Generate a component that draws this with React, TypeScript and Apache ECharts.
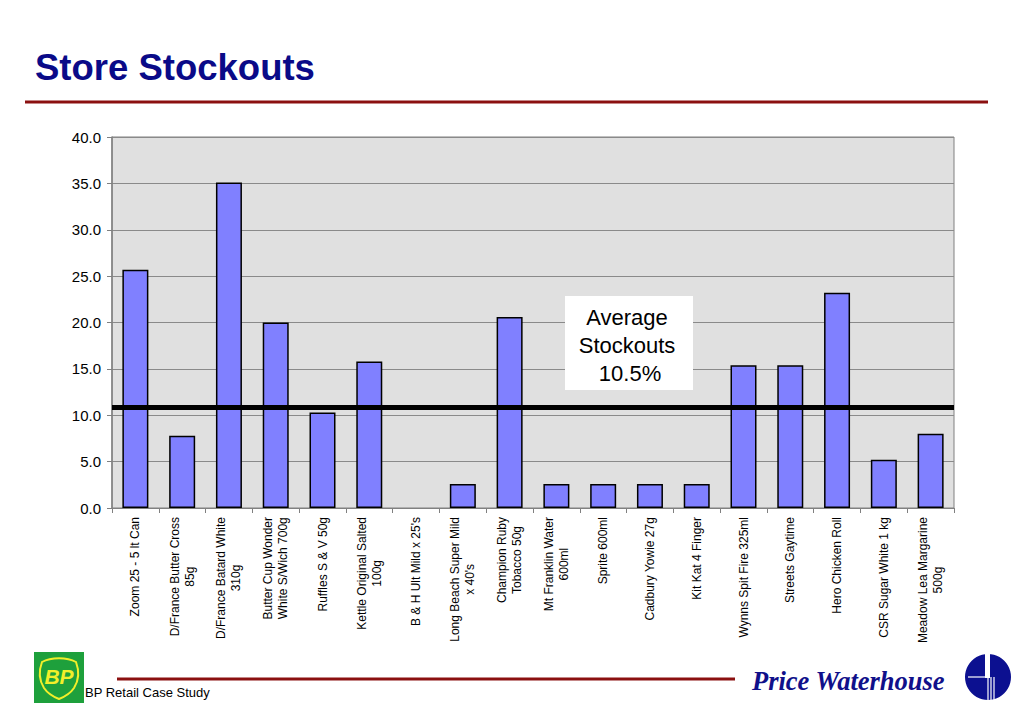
import React, { useEffect, useRef } from "react";
import * as echarts from "echarts";

const categories: string[] = [
  "Zoom 25 - 5 lt Can",
  "D/France Butter Cross\n85g",
  "D/France Batard White\n310g",
  "Butter Cup Wonder\nWhite S/Wich 700g",
  "Ruffles S & V 50g",
  "Kettle Original Salted\n100g",
  "B & H Ult Mild x 25's",
  "Long Beach Super Mild\nx 40's",
  "Champion Ruby\nTobacco 50g",
  "Mt Franklin Water\n600ml",
  "Sprite 600ml",
  "Cadbury Yowie 27g",
  "Kit Kat 4 Finger",
  "Wynns Spit Fire 325ml",
  "Streets Gaytime",
  "Hero Chicken Roll",
  "CSR Sugar White 1 kg",
  "Meadow Lea Margarine\n500g",
];

const stockouts: number[] = [
  25.7, 7.8, 35.1, 20.0, 10.3, 15.8, 0, 2.6, 20.6, 2.6, 2.6, 2.6, 2.6, 15.4, 15.4, 23.2, 5.2, 8.0,
];

const averageLine = 10.9;
const yTicks = { min: 0, max: 40, interval: 5 };

const titleText = "Store Stockouts";
const averageText = ["Average", "Stockouts", " 10.5%"];
const footerText = "BP Retail Case Study";
const brandText = "Price Waterhouse";

const shieldPath =
  "M3,6 C12,1 28,1 37,6 C40,14 40,24 35,32 C31,38 25,41 20,43 C15,41 9,38 5,32 C0,24 0,14 3,6 Z";

echarts.graphic.registerShape("bpshield", (echarts.graphic as any).extendPath(shieldPath, {}));

export default function App() {
  const ref = useRef<HTMLDivElement>(null);

  useEffect(() => {
    if (!ref.current) return;
    const chart = echarts.init(ref.current, null, { renderer: "svg" });
    const option: any = {
      animation: false,
      backgroundColor: "#ffffff",
      textStyle: { fontFamily: "Liberation Sans, Arial, sans-serif" },
      grid: {
        left: 112,
        right: 69,
        top: 137,
        bottom: 200,
        show: true,
        backgroundColor: "#e0e0e0",
        borderColor: "#808080",
        borderWidth: 1,
      },
      xAxis: {
        type: "category",
        data: categories,
        axisLine: { lineStyle: { color: "#808080", width: 1 } },
        axisTick: { show: true, interval: 0, length: 5, lineStyle: { color: "#808080" } },
        axisLabel: {
          interval: 0,
          rotate: 90,
          margin: 9,
          color: "#000",
          formatter: (v: string) =>
            v
              .split("\n")
              .map((l) => `{c|${l}}`)
              .join("\n"),
          rich: {
            c: {
              align: "center",
              fontSize: 12,
              lineHeight: 15,
              color: "#000",
              fontFamily: "Liberation Sans, Arial, sans-serif",
            },
          },
        },
      },
      yAxis: {
        type: "value",
        min: yTicks.min,
        max: yTicks.max,
        interval: yTicks.interval,
        axisLine: { show: true, lineStyle: { color: "#808080", width: 1.5 } },
        axisTick: { show: true, length: 5, lineStyle: { color: "#808080" } },
        splitLine: { lineStyle: { color: "#8a8a8a", width: 1 } },
        axisLabel: {
          color: "#000",
          fontSize: 15,
          margin: 11,
          formatter: (v: number) => v.toFixed(1),
        },
      },
      series: [
        {
          type: "bar",
          data: stockouts.map((v) => (v === 0 ? { value: v, itemStyle: { borderWidth: 0 } } : v)),
          barWidth: 26,
          itemStyle: { color: "#8080ff", borderColor: "#000", borderWidth: 1.5 },
          markLine: {
            silent: true,
            symbol: "none",
            label: { show: false },
            lineStyle: { color: "#000", width: 5, type: "solid" },
            data: [{ yAxis: averageLine }],
          },
        },
      ],
      graphic: [
        {
          type: "text",
          left: 35,
          top: 49,
          style: {
            text: titleText,
            fontSize: 36.5,
            fontWeight: "bold",
            fill: "#0a0a88",
            fontFamily: "Liberation Sans, Arial, sans-serif",
          },
        },
        {
          type: "line",
          shape: { x1: 25, y1: 102, x2: 988, y2: 102 },
          style: { stroke: "#8b1010", lineWidth: 3 },
        },
        {
          type: "rect",
          shape: { x: 565, y: 296, width: 128, height: 94 },
          style: { fill: "#ffffff" },
          z: 10,
        },
        {
          type: "text",
          x: 627,
          y: 303,
          z: 11,
          style: {
            text: averageText.join("\n"),
            fontSize: 22,
            lineHeight: 28,
            align: "center",
            verticalAlign: "top",
            fill: "#000",
            fontFamily: "Liberation Sans, Arial, sans-serif",
          },
        },
        {
          type: "line",
          shape: { x1: 117, y1: 679, x2: 735, y2: 679 },
          style: { stroke: "#8b1010", lineWidth: 3 },
        },
        {
          type: "text",
          x: 85,
          y: 686,
          style: {
            text: footerText,
            fontSize: 13,
            fill: "#000",
            fontFamily: "Liberation Sans, Arial, sans-serif",
          },
        },
        {
          type: "rect",
          shape: { x: 34, y: 652, width: 50, height: 51 },
          style: { fill: "#1ea03c" },
        },
        {
          type: "bpshield",
          x: 39,
          y: 656,
          scaleX: 1,
          scaleY: 1,
          style: { fill: "#1ea03c", stroke: "#f2ef2a", lineWidth: 2 },
        },
        {
          type: "text",
          x: 59,
          y: 676,
          style: {
            text: "BP",
            fontSize: 21,
            fontWeight: "bold",
            fontStyle: "italic",
            fill: "#f2ef2a",
            align: "center",
            verticalAlign: "middle",
            fontFamily: "Liberation Sans, Arial, sans-serif",
          },
        },
        {
          type: "text",
          x: 752,
          y: 667,
          style: {
            text: brandText,
            fontSize: 26.5,
            fontWeight: "bold",
            fontStyle: "italic",
            fill: "#10108a",
            fontFamily: "Liberation Serif, Times New Roman, serif",
          },
        },
        {
          type: "circle",
          shape: { cx: 988, cy: 677, r: 23 },
          style: { fill: "#0c1090" },
        },
        {
          type: "rect",
          shape: { x: 985, y: 654, width: 5, height: 24 },
          style: { fill: "#ffffff" },
        },
        {
          type: "line",
          shape: { x1: 968, y1: 677, x2: 990, y2: 677 },
          style: { stroke: "#ffffff", lineWidth: 1.2 },
        },
        {
          type: "line",
          shape: { x1: 988, y1: 677, x2: 988, y2: 701 },
          style: { stroke: "#ffffff", lineWidth: 1.2 },
        },
        {
          type: "line",
          shape: { x1: 991, y1: 677, x2: 991, y2: 701 },
          style: { stroke: "#ffffff", lineWidth: 1.2 },
        },
        {
          type: "line",
          shape: { x1: 994, y1: 677, x2: 994, y2: 701 },
          style: { stroke: "#ffffff", lineWidth: 1.2 },
        },
      ],
    };
    chart.setOption(option);
    return () => chart.dispose();
  }, []);

  return (
    <div
      ref={ref}
      style={{ position: "absolute", left: 0, top: 0, width: 1023, height: 708 }}
    />
  );
}
